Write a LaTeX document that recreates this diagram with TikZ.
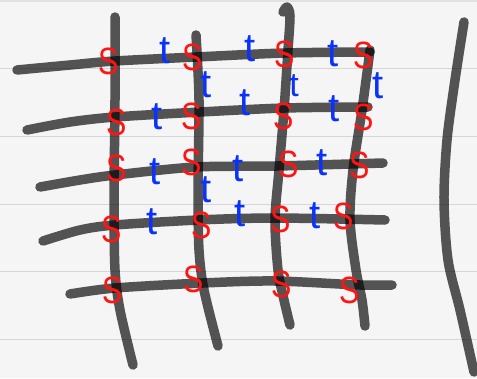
\documentclass[tikz,border=0pt]{standalone}
\usepackage{fontspec}
\setmainfont{Liberation Sans}
\definecolor{paper}{RGB}{245,245,245}
\definecolor{rule}{RGB}{214,214,214}
\definecolor{inkred}{RGB}{255,20,20}
\definecolor{inkblue}{RGB}{10,50,250}
\tikzset{
  stroke/.style={draw=black, draw opacity=0.66, line width=9.5pt, line cap=round, line join=round},
  smark/.style={text=inkred, font=\fontsize{38}{38}\selectfont, inner sep=0pt, xscale=0.8},
  tmark/.style={text=inkblue, font=\fontsize{40}{40}\selectfont, inner sep=0pt}
}
\begin{document}
\begin{tikzpicture}[x=1pt,y=-1pt]
\fill[paper] (0,0) rectangle (477,378);
\useasboundingbox (0,0) rectangle (477,378);
\fill[rule!70] (0,0) rectangle (477,2);
\foreach \yy in {68,136,204,271,339} \draw[rule, line width=1pt] (0,\yy) -- (477,\yy);
% vertical strokes
\draw[stroke] plot[smooth] coordinates {(115,17) (115,100) (114,200) (115,270) (120,310) (133,365)};
\draw[stroke] plot[smooth] coordinates {(196,35) (199,100) (198,190) (199,250) (204,290) (218,346)};
\draw[stroke] plot[smooth] coordinates {(283,12) (287,7) (290,16) (288,50) (284,110) (279,170) (275,220) (278,270) (284,300) (290,325)};
\draw[stroke] plot[smooth] coordinates {(370,50) (362,110) (353,170) (350,220) (356,270) (362,300) (365,326)};
% horizontal strokes
\draw[stroke] plot[smooth] coordinates {(17,70) (70,65) (115,61) (196,57) (285,53) (370,52)};
\draw[stroke] plot[smooth] coordinates {(27,130) (70,122) (115,117) (200,112) (285,108) (368,107)};
\draw[stroke] plot[smooth] coordinates {(40,187) (80,180) (115,175) (196,167) (277,166) (383,163)};
\draw[stroke] plot[smooth] coordinates {(43,241) (80,230) (115,225) (198,220) (275,218) (385,220)};
\draw[stroke] plot[smooth] coordinates {(70,294) (115,288) (203,283) (275,281) (360,285) (392,285)};
% right bracket
\draw[stroke] plot[smooth] coordinates {(464,22) (455,80) (447,140) (444,200) (448,260) (460,310) (474,372)};
% S marks
\node[smark] (s11) at (109,61) {S};
\node[smark] (s12) at (193,57) {S};
\node[smark] (s13) at (285,54) {S};
\node[smark] (s14) at (364,55) {S};
\node[smark] (s21) at (117,122) {S};
\node[smark] (s22) at (192,116) {S};
\node[smark] (s23) at (284,116) {S};
\node[smark] (s24) at (364,117) {S};
\node[smark] (s31) at (117,168) {S};
\node[smark] (s32) at (192,162) {S};
\node[smark] (s33) at (289,164) {S};
\node[smark] (s34) at (360,165) {S};
\node[smark] (s41) at (112,229) {S};
\node[smark] (s42) at (202,225) {S};
\node[smark] (s43) at (281,219) {S};
\node[smark] (s44) at (344,216) {S};
\node[smark] (s51) at (113,290) {S};
\node[smark] (s52) at (194,279) {S};
\node[smark] (s53) at (282,284) {S};
\node[smark] (s54) at (350,290) {S};
% t marks
\node[tmark] (t11) at (165,51) {t};
\node[tmark] (t12) at (250,49) {t};
\node[tmark] (t13) at (333,54) {t};
\node[tmark] (t1a) at (206,85) {t};
\node[tmark, font=\fontsize{34}{34}\selectfont] (t1b) at (294,86) {t};
\node[tmark] (t1c) at (378,86) {t};
\node[tmark] (t21) at (157,117) {t};
\node[tmark] (t22) at (245,103) {t};
\node[tmark] (t23) at (334,109) {t};
\node[tmark] (t31) at (155,172) {t};
\node[tmark] (t32) at (238,169) {t};
\node[tmark] (t33) at (322,163) {t};
\node[tmark] (t3a) at (206,190) {t};
\node[tmark] (t41) at (152,222) {t};
\node[tmark] (t42) at (240,214) {t};
\node[tmark] (t43) at (315,216) {t};
\end{tikzpicture}
\end{document}
